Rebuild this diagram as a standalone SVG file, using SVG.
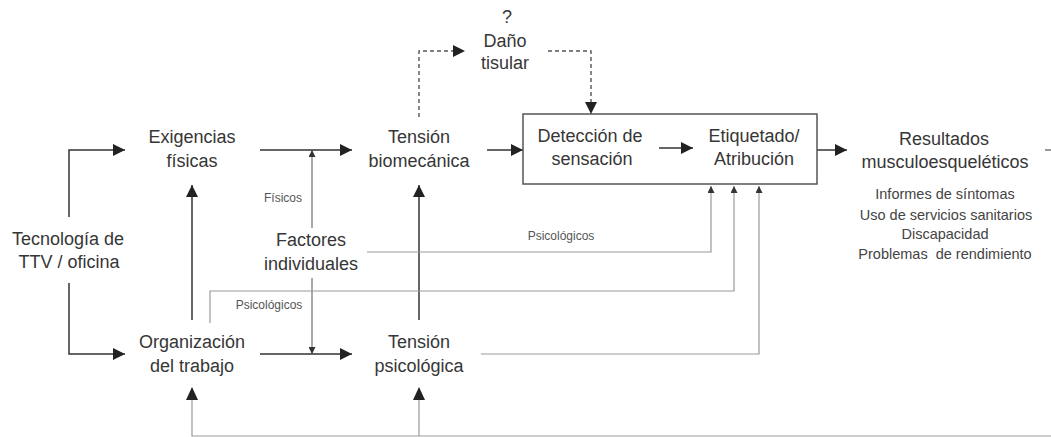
<svg xmlns="http://www.w3.org/2000/svg" width="1051" height="437" viewBox="0 0 1051 437">
<defs>
<marker id="ah" viewBox="0 0 12 12" refX="12" refY="6" markerWidth="12" markerHeight="12" markerUnits="userSpaceOnUse" orient="auto"><path d="M0,0 L12,6 L0,12 Z" fill="#222"/></marker>
<marker id="as" viewBox="0 0 8 8" refX="8" refY="4" markerWidth="7" markerHeight="7" markerUnits="userSpaceOnUse" orient="auto"><path d="M0,0 L8,4 L0,8 Z" fill="#333"/></marker>
</defs>
<style>
text{font-family:"Liberation Sans",Arial,sans-serif;fill:#363636;text-anchor:middle}
.big{font-size:18px}
.sm{font-size:14.5px;fill:#444}
.pre{white-space:pre}
.lab{font-size:12px;fill:#555}
.main{fill:none;stroke:#333;stroke-width:1.5}
.dash{fill:none;stroke:#555;stroke-width:1.4;stroke-dasharray:4,3}
.thin{fill:none;stroke:#555;stroke-width:1}
.gray{fill:none;stroke:#999;stroke-width:1.2}
</style>
<rect width="1051" height="437" fill="#fff"/>
<g id="connectors">
<path class="main" d="M69,217 V150 H125" marker-end="url(#ah)"/>
<path class="main" d="M69,283 V354 H125" marker-end="url(#ah)"/>
<path class="main" d="M260,150 H352" marker-end="url(#ah)"/>
<path class="main" d="M260,354 H352" marker-end="url(#ah)"/>
<path class="main" d="M192,320 V185" marker-end="url(#ah)"/>
<path class="main" d="M419,320 V185" marker-end="url(#ah)"/>
<path class="main" d="M487,150 H523" marker-end="url(#ah)"/>
<path class="main" d="M659,148 H693" marker-end="url(#ah)"/>
<path class="main" d="M817,150 H847" marker-end="url(#ah)"/>
<path class="dash" d="M419,117 V51 H465" marker-end="url(#ah)"/>
<path class="dash" d="M548,51 H591 V114" marker-end="url(#ah)"/>
<path class="thin" d="M312,228 V150" marker-end="url(#as)"/>
<path class="thin" d="M312,278 V354" marker-end="url(#as)"/>
<path class="gray" d="M367,252 H711 V186" marker-end="url(#as)"/>
<path class="gray" d="M210,323 V291 H734 V186" marker-end="url(#as)"/>
<path class="gray" d="M481,354 H759 V186" marker-end="url(#as)"/>
<path class="main" d="M1045,150 H1051" style="stroke:#777"/>
<path class="gray" d="M1051,436 H192 V388"/>
<path class="gray" d="M419,436 V388"/>
<path d="M186,400 L192,387 L198,400 Z" fill="#222"/>
<path d="M413,400 L419,387 L425,400 Z" fill="#222"/>
</g>
<g id="tecnologia"><text class="big" x="68" y="245">Tecnología de</text><text class="big" x="69" y="268">TTV / oficina</text></g>
<g id="exigencias"><text class="big" x="192" y="143">Exigencias</text><text class="big" x="192" y="167">físicas</text></g>
<g id="organizacion"><text class="big" x="192" y="348">Organización</text><text class="big" x="192" y="372">del trabajo</text></g>
<g id="factores"><text class="big" x="311" y="246">Factores</text><text class="big" x="311" y="270">individuales</text></g>
<g id="tension-bio"><text class="big" x="419" y="143">Tensión</text><text class="big" x="419" y="167">biomecánica</text></g>
<g id="tension-psi"><text class="big" x="419" y="348">Tensión</text><text class="big" x="419" y="372">psicológica</text></g>
<g id="dano"><text class="big" x="507" y="23">?</text><text class="big" x="505" y="47">Daño</text><text class="big" x="505" y="69">tisular</text></g>
<g id="percepcion">
<rect x="523" y="114" width="294" height="70" fill="none" stroke="#555" stroke-width="1.5"/>
<text class="big" x="590" y="142">Detección de</text><text class="big" x="592" y="165">sensación</text>
<text class="big" x="754" y="142">Etiquetado/</text><text class="big" x="754" y="165">Atribución</text>
</g>
<g id="resultados">
<text class="big" x="944" y="145">Resultados</text><text class="big" x="945" y="168">musculoesqueléticos</text>
<text class="sm" x="945" y="199">Informes de síntomas</text>
<text class="sm" x="946" y="220">Uso de servicios sanitarios</text>
<text class="sm" x="945" y="239">Discapacidad</text>
<text class="sm pre" x="945" y="259">Problemas  de rendimiento</text>
</g>
<g id="labels">
<text class="lab" x="283" y="202">Físicos</text>
<text class="lab" x="561" y="240">Psicológicos</text>
<text class="lab" x="269" y="309">Psicológicos</text>
</g>
</svg>
